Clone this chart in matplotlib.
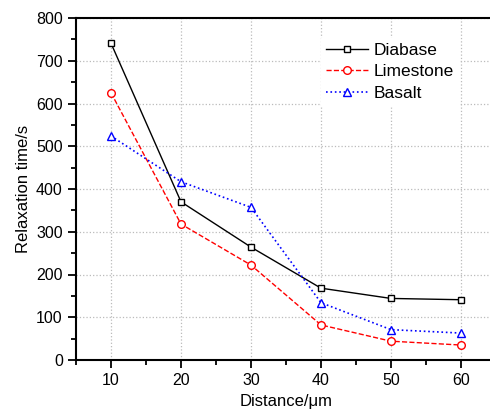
import numpy as np
from matplotlib import pyplot as plt

plt.rcParams['font.family'] = ['Liberation Sans', 'DejaVu Sans']

distance = [10, 20, 30, 40, 50, 60]
diabase = [741, 370, 264, 168, 144, 141]
limestone = [625, 318, 222, 82, 44, 35]
basalt = [524, 417, 357, 134, 71, 63]

fig = plt.figure(figsize=(4.9, 4.12), dpi=100)
ax = fig.add_axes([76 / 490, 52 / 412, 420 / 490, 342 / 412])

ax.plot(distance, diabase, 'k-', marker='s', mfc='white', ms=5, lw=1, label='Diabase')
ax.plot(distance, limestone, color='red', ls='--', marker='o', mfc='white', ms=5.5, lw=1, label='Limestone')
ax.plot(distance, basalt, color='blue', ls=':', marker='^', mfc='white', ms=6, lw=1.2, label='Basalt')

ax.set_xlim(5, 65)
ax.set_ylim(0, 800)
ax.set_xticks([10, 20, 30, 40, 50, 60])
ax.set_xticks(np.arange(5, 66, 10), minor=True)
ax.set_yticks(np.arange(0, 801, 100))
ax.set_yticks(np.arange(50, 800, 100), minor=True)
ax.grid(True, which='major', ls=':', color='#bbbbbb', lw=0.9)
ax.tick_params(which='major', direction='out', length=6, width=1.3, labelsize=11.5)
ax.tick_params(which='minor', direction='out', length=3.5, width=1.3)
for s in ax.spines.values():
    s.set_linewidth(1.5)

ax.set_xlabel('Distance/μm', fontsize=12)
ax.set_ylabel('Relaxation time/s', fontsize=12)

leg = ax.legend(loc='upper left', bbox_to_anchor=(0.563, 0.968), fontsize=12.5,
                frameon=True, fancybox=False, edgecolor='white', framealpha=1,
                handlelength=2.4, handletextpad=0.3, labelspacing=0.36, borderpad=0.3)

fig.savefig('out.png', dpi=100)
